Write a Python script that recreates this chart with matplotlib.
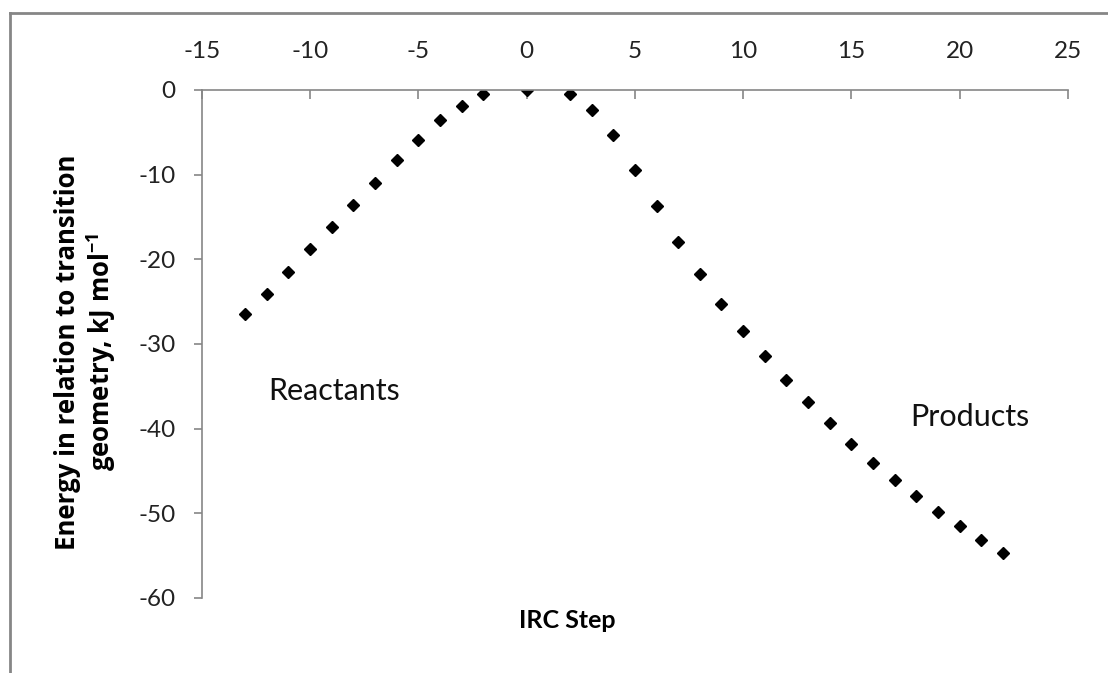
import matplotlib.pyplot as plt
from matplotlib.lines import Line2D

plt.rcParams['font.family'] = ['Lato', 'DejaVu Sans']
plt.rcParams['axes.unicode_minus'] = False

# IRC scan, energy relative to the transition state (kJ/mol)
irc_step = [-13, -12, -11, -10, -9, -8, -7, -6, -5, -4, -3, -2, 0,
            2, 3, 4, 5, 6, 7, 8, 9, 10, 11, 12, 13, 14, 15, 16, 17, 18,
            19, 20, 21, 22]
energy = [-26.5, -24.1, -21.5, -18.8, -16.2, -13.6, -11.0, -8.3, -5.9,
          -3.6, -1.85, -0.45, 0.0,
          -0.45, -2.4, -5.35, -9.4, -13.75, -18.0, -21.75, -25.3, -28.5,
          -31.4, -34.2, -36.9, -39.3, -41.8, -44.0, -46.1, -48.0, -49.8,
          -51.5, -53.2, -54.7]
x_ticks = [-15, -10, -5, 0, 5, 10, 15, 20, 25]
y_ticks = [0, -10, -20, -30, -40, -50, -60]

W, H = 1108, 673
fig = plt.figure(figsize=(W / 100, H / 100), dpi=100)
ax = fig.add_axes([201.7 / W, 1 - 598 / H, (1068 - 201.7) / W, (598 - 90) / H])

ax.plot(irc_step, energy, linestyle='none', marker='D', markersize=6.1,
        color='black')

ax.set_xlim(-15, 25)
ax.set_ylim(-60, 0)
ax.set_xticks(x_ticks)
ax.set_yticks(y_ticks)

grey = '#868686'
for side in ['bottom', 'right']:
    ax.spines[side].set_visible(False)
for side in ['top', 'left']:
    ax.spines[side].set_color(grey)
    ax.spines[side].set_linewidth(1.2)

ax.xaxis.tick_top()
ax.tick_params(axis='x', direction='in', length=6.5, width=1.2, color=grey,
               pad=20, labelsize=17.5, labelcolor='#222222')
ax.tick_params(axis='y', direction='out', length=6, width=1.2, color=grey,
               pad=13, labelsize=17.5, labelcolor='#222222')

ax.text(-11.95, -35.5, 'Reactants', fontsize=22, va='center', ha='left',
        color='#111111')
ax.text(17.7, -38.6, 'Products', fontsize=22, va='center', ha='left',
        color='#111111')

fig.text(86 / W, 1 - 352 / H,
         'Energy in relation to transition\ngeometry, kJ mol$^{\\mathregular{-1}}$',
         rotation=90, ha='center', va='center', multialignment='center',
         fontsize=18.5, fontweight='bold', family='Open Sans', linespacing=1.1)
fig.text(567 / W, 1 - 620 / H, 'IRC Step', ha='center', va='center',
         fontsize=18, fontweight='bold')

# chart border (only left and top edges fall inside the image)
fig.add_artist(Line2D([9.5 / W, 9.5 / W], [-0.05, 1 - 12.8 / H],
                      transform=fig.transFigure, color=grey, linewidth=2))
fig.add_artist(Line2D([9.5 / W, 1.05], [1 - 12.8 / H, 1 - 12.8 / H],
                      transform=fig.transFigure, color=grey, linewidth=2))

fig.savefig('out.png', dpi=100)
